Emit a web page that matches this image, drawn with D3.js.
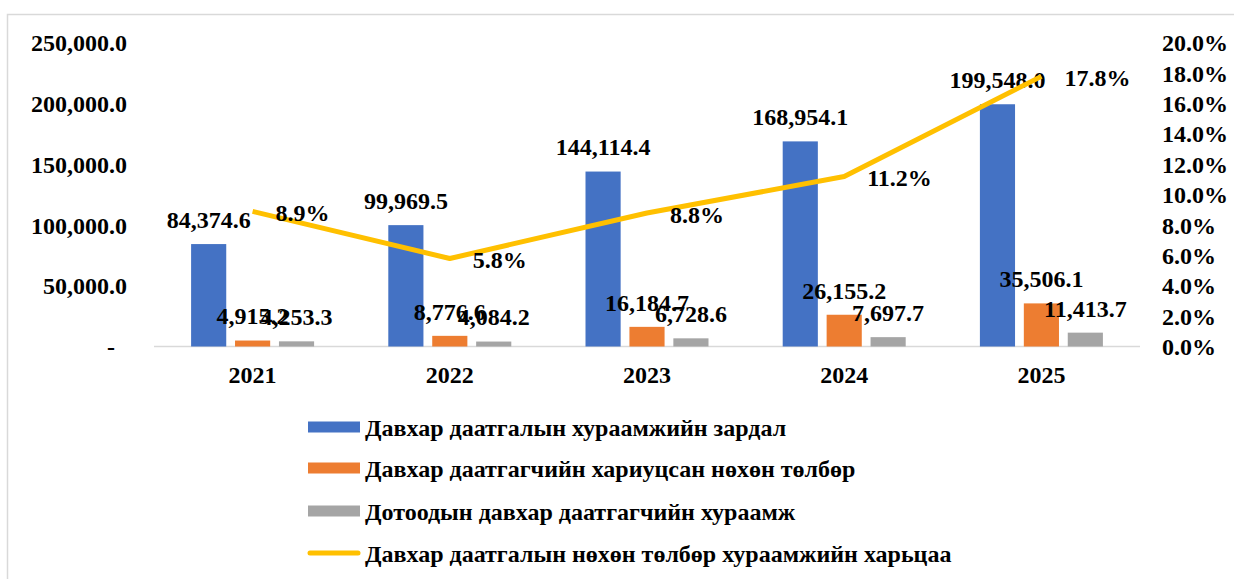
<!DOCTYPE html>
<html>
<head>
<meta charset="utf-8">
<script src="https://cdn.jsdelivr.net/npm/d3@7"></script>
<style>
  body { margin: 0; background: #fff; }
  text { font-family: "Liberation Serif", "Times New Roman", serif; font-weight: bold; fill: #000; }
</style>
</head>
<body>
<div id="chart"></div>
<script>
// data
const years = ['2021', '2022', '2023', '2024', '2025'];
const premiumCost = [84374.6, 99969.5, 144114.4, 168954.1, 199548.0];
const claimsPaid = [4915.2, 8776.6, 16184.7, 26155.2, 35506.1];
const domesticPremium = [4253.3, 4084.2, 6728.6, 7697.7, 11413.7];
const lossRatio = [8.9, 5.8, 8.8, 11.2, 17.8];
const seriesNames = [
  'Давхар даатгалын хураамжийн зардал',
  'Давхар даатгагчийн хариуцсан нөхөн төлбөр',
  'Дотоодын давхар даатгагчийн хураамж',
  'Давхар даатгалын нөхөн төлбөр хураамжийн харьцаа'
];
const leftTicks = [0, 50000, 100000, 150000, 200000, 250000];
const rightTicks = [0, 2, 4, 6, 8, 10, 12, 14, 16, 18, 20];

const colors = ['#4472C4', '#ED7D31', '#A5A5A5', '#FFC000'];
const barSeries = [premiumCost, claimsPaid, domesticPremium];

const width = 1234, height = 579;
const plot = { left: 154, right: 1140, top: 43, bottom: 346.5 };

const svg = d3.select('#chart').append('svg')
  .attr('width', width)
  .attr('height', height);

// chart frame
svg.append('rect')
  .attr('x', 7.5).attr('y', 14.5)
  .attr('width', 1400).attr('height', 800)
  .attr('fill', 'none')
  .attr('stroke', '#d9d9d9')
  .attr('stroke-width', 1.5);

//// scales
const x0 = d3.scaleBand()
  .domain(years)
  .range([plot.left, plot.right])
  .padding(0);

const x1 = d3.scaleBand()
  .domain([0, 1, 2])
  .range([-61.5, 61.5])
  .paddingInner(0.2);

const yLeft = d3.scaleLinear()
  .domain([0, 250000])
  .range([plot.bottom, plot.top]);

const yRight = d3.scaleLinear()
  .domain([0, 20])
  .range([plot.bottom, plot.top]);

const center = d => x0(d) + x0.bandwidth() / 2;
const fmt = d3.format(',.1f');

//// axes
const leftAxis = svg.append('g')
  .attr('transform', `translate(127,0)`)
  .call(d3.axisLeft(yLeft).tickValues(leftTicks).tickSize(0).tickPadding(0)
    .tickFormat(d => d === 0 ? '-' : fmt(d)));
leftAxis.select('.domain').remove();
leftAxis.selectAll('text')
  .style('font-size', '24px')
  .attr('dy', '0.33em')
  .attr('x', d => d === 0 ? -12 : 0);

const rightAxis = svg.append('g')
  .attr('transform', `translate(1162,0)`)
  .call(d3.axisRight(yRight).tickValues(rightTicks).tickSize(0).tickPadding(0)
    .tickFormat(d => d.toFixed(1) + '%'));
rightAxis.select('.domain').remove();
rightAxis.selectAll('text')
  .style('font-size', '24px')
  .attr('dy', '0.33em');

// baseline
svg.append('line')
  .attr('x1', plot.left).attr('x2', plot.right)
  .attr('y1', plot.bottom).attr('y2', plot.bottom)
  .attr('stroke', '#d9d9d9')
  .attr('stroke-width', 1.5);

const xAxis = svg.append('g')
  .attr('transform', `translate(0,${plot.bottom})`)
  .call(d3.axisBottom(x0).tickSize(0).tickPadding(0));
xAxis.select('.domain').remove();
xAxis.selectAll('text')
  .style('font-size', '24px')
  .attr('dy', '0')
  .attr('y', 36);

//// bars
const groups = svg.selectAll('g.year')
  .data(years)
  .join('g')
  .attr('class', 'year')
  .attr('transform', d => `translate(${center(d)},0)`);

groups.selectAll('rect')
  .data((d, i) => barSeries.map((s, k) => ({ k, v: s[i] })))
  .join('rect')
  .attr('x', d => x1(d.k))
  .attr('width', x1.bandwidth())
  .attr('y', d => yLeft(d.v))
  .attr('height', d => plot.bottom - yLeft(d.v))
  .attr('fill', d => colors[d.k]);

// bar labels
groups.selectAll('text.bar-label')
  .data((d, i) => barSeries.map((s, k) => ({ k, v: s[i] })))
  .join('text')
  .attr('class', 'bar-label')
  .attr('x', d => x1(d.k) + x1.bandwidth() / 2)
  .attr('y', d => yLeft(d.v) - 24)
  .attr('dy', '0.33em')
  .attr('text-anchor', 'middle')
  .style('font-size', '24px')
  .text(d => fmt(d.v));

//// line
const line = d3.line()
  .x((d, i) => center(years[i]))
  .y(d => yRight(d));

svg.append('path')
  .datum(lossRatio)
  .attr('d', line)
  .attr('fill', 'none')
  .attr('stroke', colors[3])
  .attr('stroke-width', 5)
  .attr('stroke-linejoin', 'round');

svg.selectAll('text.line-label')
  .data(lossRatio)
  .join('text')
  .attr('class', 'line-label')
  .attr('x', (d, i) => center(years[i]) + 23)
  .attr('y', d => yRight(d) + 2)
  .attr('dy', '0.33em')
  .style('font-size', '24px')
  .text(d => d.toFixed(1) + '%');

//// legend
const legendRows = [427, 468, 511, 553];
const legend = svg.selectAll('g.legend')
  .data(seriesNames)
  .join('g')
  .attr('class', 'legend')
  .attr('transform', (d, i) => `translate(308,${legendRows[i]})`);

legend.filter((d, i) => i < 3)
  .append('rect')
  .attr('x', 0).attr('y', -5.5)
  .attr('width', 52).attr('height', 11)
  .attr('fill', (d, i) => colors[i]);

legend.filter((d, i) => i === 3)
  .append('line')
  .attr('x1', 2).attr('x2', 50)
  .attr('y1', 0).attr('y2', 0)
  .attr('stroke', colors[3])
  .attr('stroke-width', 5)
  .attr('stroke-linecap', 'round');

legend.append('text')
  .attr('x', 57)
  .attr('y', 1)
  .attr('dy', '0.33em')
  .style('font-size', '24px')
  .text(d => d);
</script>
</body>
</html>
